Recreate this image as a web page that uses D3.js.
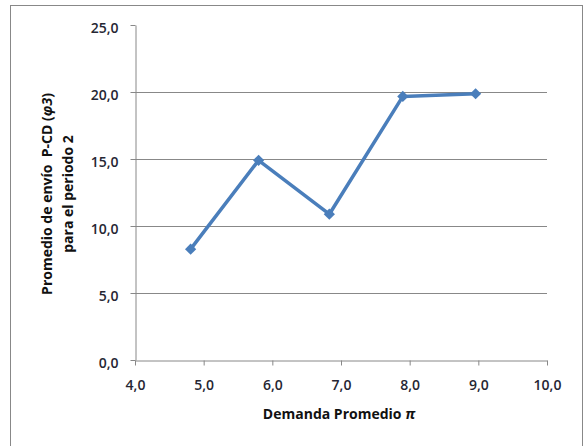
<!DOCTYPE html>
<html>
<head>
<meta charset="utf-8">
<script src="https://cdn.jsdelivr.net/npm/d3@7"></script>
<style>
  html, body { margin: 0; padding: 0; background: #fff; }
  svg text { font-family: "Open Sans", Lato, sans-serif; }
</style>
</head>
<body>
<svg id="chart" width="587" height="446"></svg>
<script>
// Demanda promedio (π) vs. promedio de envío P-CD (φ3), periodo 2
const demanda = [4.81, 5.80, 6.83, 7.90, 8.96];
const envio = [8.27, 14.9, 10.88, 19.67, 19.87];
const xTicks = [4, 5, 6, 7, 8, 9, 10];
const yTicks = [0, 5, 10, 15, 20, 25];

const svg = d3.select("#chart");
const fmt = v => d3.format(".1f")(v).replace(".", ",");

const x = d3.scaleLinear().domain([4, 10]).range([135, 547]);
const y = d3.scaleLinear().domain([0, 25]).range([360, 25]);

// chart frame
svg.append("rect")
  .attr("x", 10.5).attr("y", 5.5)
  .attr("width", 572).attr("height", 460)
  .attr("fill", "none").attr("stroke", "#888").attr("stroke-width", 1);

// horizontal gridlines
svg.append("g")
  .selectAll("line")
  .data(yTicks.filter(t => t > 0 && t < 25))
  .join("line")
  .attr("x1", x(4)).attr("x2", x(10))
  .attr("y1", d => Math.round(y(d)) + 0.5).attr("y2", d => Math.round(y(d)) + 0.5)
  .attr("stroke", "#888").attr("stroke-width", 1);

// y axis
const yAxis = svg.append("g")
  .attr("transform", `translate(${x(4) + 0.5},0)`)
  .call(d3.axisLeft(y).tickValues(yTicks).tickFormat(fmt).tickSize(5).tickSizeOuter(0));
yAxis.select(".domain").attr("stroke", "#888");
yAxis.selectAll(".tick line").attr("stroke", "#888");
yAxis.selectAll(".tick text")
  .attr("x", -17).attr("dy", "0.5em")
  .attr("font-size", 14).attr("font-weight", 600).attr("fill", "#262633");

// x axis
const xAxis = svg.append("g")
  .attr("transform", `translate(0,${Math.round(y(0)) + 0.5})`)
  .call(d3.axisBottom(x).tickValues(xTicks).tickFormat(fmt).tickSize(5).tickSizeOuter(0));
xAxis.select(".domain").attr("stroke", "#888");
xAxis.selectAll(".tick line").attr("stroke", "#888");
xAxis.selectAll(".tick text")
  .attr("y", 20).attr("font-size", 14).attr("font-weight", 600).attr("fill", "#262633");

// axis titles
svg.append("text")
  .attr("x", 339).attr("y", 419)
  .attr("text-anchor", "middle")
  .attr("font-size", 14).attr("font-weight", "bold").attr("fill", "#111")
  .text("Demanda Promedio ")
  .append("tspan").attr("font-style", "italic").text("π");

const yt = svg.append("text")
  .attr("transform", "translate(0,194) rotate(-90)")
  .attr("text-anchor", "middle")
  .attr("font-size", 14).attr("font-weight", "bold").attr("fill", "#111");
const l1 = yt.append("tspan").attr("x", 0).attr("y", 52).text("Promedio de envío\u00a0 P-CD (");
l1.append("tspan").attr("font-style", "italic").text("φ3");
l1.append("tspan").text(")");
yt.append("tspan").attr("x", 0).attr("y", 73).text("para el periodo 2");

// data series
const pts = demanda.map((d, i) => [d, envio[i]]);
svg.append("path")
  .datum(pts)
  .attr("fill", "none")
  .attr("stroke", "#4a7ebb")
  .attr("stroke-width", 3.5)
  .attr("stroke-linejoin", "round")
  .attr("d", d3.line().x(d => x(d[0])).y(d => y(d[1])));

svg.append("g")
  .selectAll("path")
  .data(pts)
  .join("path")
  .attr("transform", d => `translate(${x(d[0])},${y(d[1])})`)
  .attr("d", d3.symbol().type(d3.symbolDiamond2).size(80))
  .attr("fill", "#4a7ebb");
</script>
</body>
</html>
